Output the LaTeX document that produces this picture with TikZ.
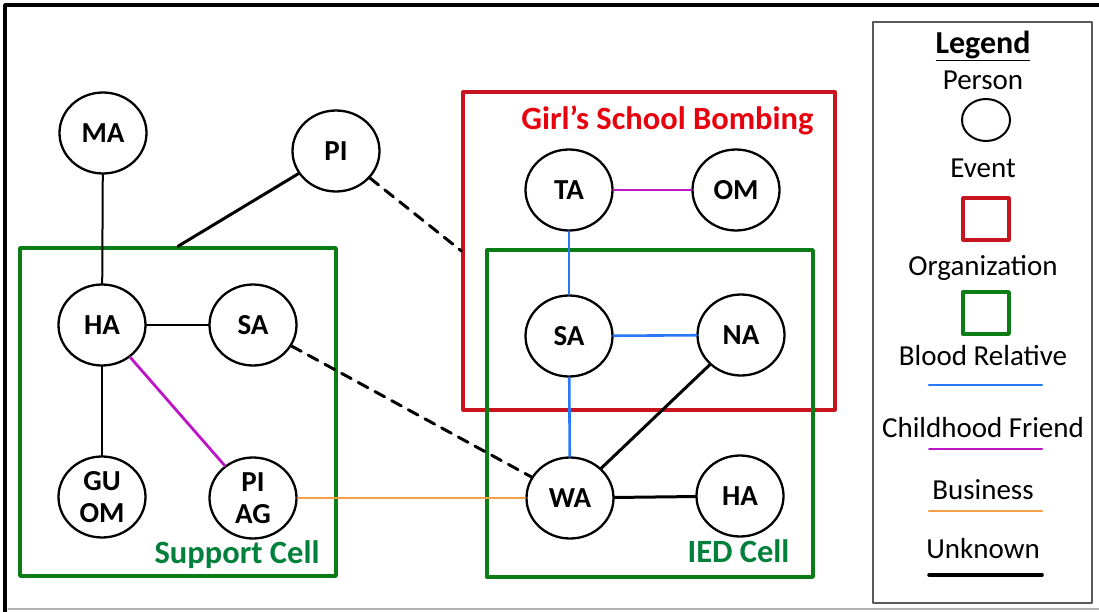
\documentclass[tikz,border=0pt]{standalone}
\usepackage{fontspec}
\setmainfont{Carlito}
\usetikzlibrary{shapes.geometric,positioning}

\definecolor{eventred}{RGB}{200,20,30}
\definecolor{titlered}{RGB}{232,0,12}
\definecolor{orggreen}{RGB}{12,125,22}
\definecolor{labelgreen}{RGB}{0,128,58}
\definecolor{bloodblue}{RGB}{40,120,250}
\definecolor{friendpink}{RGB}{190,20,200}
\definecolor{bizorange}{RGB}{245,160,70}

\begin{document}
\begin{tikzpicture}[
    x=1pt, y=-1pt,
    line cap=round,
    line join=round,
    person/.style={ellipse, draw, line width=2.3pt, minimum width=87pt,
        minimum height=81pt, inner sep=0pt, align=center,
        font=\fontsize{29}{32}\selectfont\bfseries},
    eventbox/.style={draw=eventred, line width=3.2pt, inner sep=0pt},
    orgbox/.style={draw=orggreen, line width=3.4pt, inner sep=0pt},
    boxlabel/.style={anchor=base east, font=\fontsize{32.5}{32.5}\selectfont\bfseries},
    legtext/.style={font=\fontsize{29}{29}\selectfont},
    blood/.style={draw=bloodblue, line width=2.6pt},
    friend/.style={draw=friendpink, line width=2.8pt},
    business/.style={draw=bizorange, line width=2pt},
    unknown/.style={draw=black, line width=2pt},
    unknownbold/.style={draw=black, line width=3pt},
    unknowndash/.style={draw=black, line width=3pt, dash pattern=on 11pt off 8pt}
]
\useasboundingbox (0,0) rectangle (1099,612);

% --- Outer frame ---
\draw[line width=3.5pt] (5,612) -- (5,5) -- (1099,5);
\draw[gray!60, line width=1.2pt] (8,609) -- (1099,609);

% --- Groups (events and organizations) ---
\node[orgbox, minimum width=316pt, minimum height=328pt] (support) at (178,412) {};
\node[eventbox, minimum width=372pt, minimum height=318pt] (school) at (649,251) {};
\node[orgbox, minimum width=326pt, minimum height=327pt] (ied) at (650,413.5) {};

\node[boxlabel, text=labelgreen] (supportlbl) at (323,563) {Support Cell};
\node[boxlabel, text=titlered] (schoollbl) at (817,130) {Girl’s School Bombing};
\node[boxlabel, text=labelgreen] (iedlbl) at (793,562) {IED Cell};

% --- People ---
\node[person] (ma) at (103,133) {MA};
\node[person] (pi) at (336,151) {PI};
\node[person] (ha) at (102,325) {HA};
\node[person] (sa) at (253,325) {SA};
\node[person] (guom) at (102,497) {GU\\OM};
\node[person] (piag) at (253,498) {PI\\AG};

\node[person] (ta) at (569,190) {TA};
\node[person] (om) at (736,190) {OM};
\node[person] (saa) at (569,336) {SA};
\node[person] (na) at (741,335) {NA};
\node[person] (wa) at (570,498) {WA};
\node[person] (haa) at (740,496) {HA};

% --- Links ---
\draw[unknown] (ma) -- (ha);
\draw[unknown] (ha) -- (sa);
\draw[unknown] (ha) -- (guom);
\draw[friend] (ha) -- (piag);
\draw[unknownbold] (pi) -- (support.north);
\draw[unknowndash] (pi) -- (school.west);
\draw[unknowndash] (sa) -- (wa);
\draw[business] (piag) -- (wa);

\draw[friend] (ta) -- (om);
\draw[blood] (ta) -- (saa);
\draw[blood] (saa) -- (na);
\draw[blood] (saa) -- (wa);
\draw[unknownbold] (na) -- (wa);
\draw[unknownbold] (wa) -- (haa);

% --- Legend ---
\node[draw=gray!70!black, line width=1.4pt, minimum width=219pt, minimum height=581pt] (legend) at (982.5,312.5) {};
\node[legtext, font=\fontsize{32}{32}\selectfont\bfseries] (legtitle) at (983,46) {\underline{Legend}};
\node[legtext] (legperson) at (983,80) {Person};
\node[ellipse, draw, line width=2pt, minimum width=48pt, minimum height=42pt] (legcircle) at (986,120) {};
\node[legtext] (legevent) at (983,168) {Event};
\node[eventbox, minimum width=46pt, minimum height=42pt] (legred) at (986,219) {};
\node[legtext] (legorg) at (983,268) {Organization};
\node[orgbox, minimum width=46pt, minimum height=42pt] (leggreen) at (986,313) {};
\node[legtext] (legblood) at (983,356) {Blood Relative};
\node[legtext] (legfriend) at (983,428) {Childhood Friend};
\node[legtext] (legbiz) at (983,490) {Business};
\node[legtext] (legunknown) at (983,549) {Unknown};

\draw[blood] (929,385) -- (1042,385);
\draw[friend, line width=2pt] (929,449) -- (1042,449);
\draw[business, line width=2.4pt] (929,511) -- (1042,511);
\draw[unknownbold, line width=3.6pt] (929,575) -- (1042,575);

\end{tikzpicture}
\end{document}
